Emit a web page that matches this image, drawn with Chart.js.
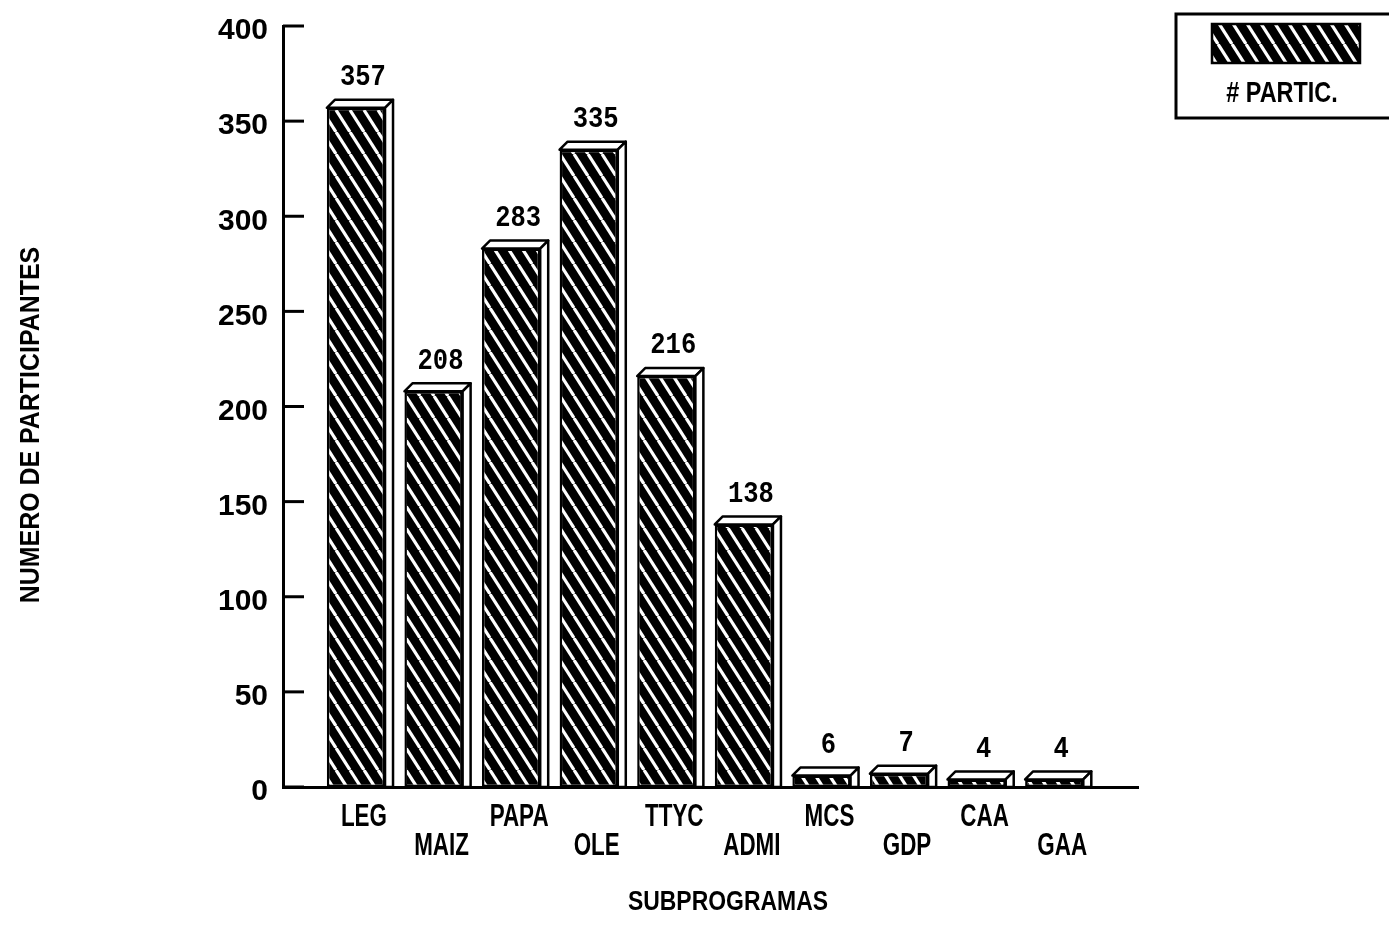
<!DOCTYPE html>
<html><head><meta charset="utf-8">
<script src="https://cdn.jsdelivr.net/npm/chart.js@4"></script>
<style>html,body{margin:0;padding:0;background:#fff;}#wrap{width:1389px;height:925px;position:relative;}</style>
</head><body><div id="wrap"><canvas id="c" width="1389" height="925"></canvas></div>
<script>
const categories = ['LEG','MAIZ','PAPA','OLE','TTYC','ADMI','MCS','GDP','CAA','GAA'];
const participants = [357, 208, 283, 335, 216, 138, 6, 7, 4, 4];
const yTickValues = [0, 50, 100, 150, 200, 250, 300, 350, 400];
const seriesLabel = '# PARTIC.';
const yTitle = 'NUMERO DE PARTICIPANTES';
const xTitle = 'SUBPROGRAMAS';

const SANS = '"Liberation Sans", Arial, sans-serif';
const MONO = '"Liberation Mono", "DejaVu Sans Mono", monospace';

function makeHatch() {
  const w = 14, h = 22;
  const c = document.createElement('canvas');
  c.width = w; c.height = h;
  const g = c.getContext('2d');
  g.fillStyle = '#000'; g.fillRect(0, 0, w, h);
  g.strokeStyle = '#fff'; g.lineWidth = 3.2;
  for (let k = -1; k <= 1; k++) {
    g.beginPath(); g.moveTo(k * w, 0); g.lineTo(k * w + w, h); g.stroke();
  }
  return g.createPattern(c, 'repeat');
}
const hatch = makeHatch();

const DEPTH_X = 8, DEPTH_Y = -8;

function squeezed(ctx, text, x, y, font, sx, rot) {
  ctx.save();
  ctx.translate(x, y);
  if (rot) ctx.rotate(rot);
  ctx.scale(sx, 1);
  ctx.font = font;
  ctx.fillStyle = '#000';
  ctx.textAlign = 'center';
  ctx.textBaseline = 'middle';
  ctx.fillText(text, 0, 0);
  ctx.restore();
}

const deco = {
  id: 'deco',
  afterDatasetsDraw(chart) {
    const ctx = chart.ctx;
    const meta = chart.getDatasetMeta(0);
    ctx.save();
    ctx.lineJoin = 'round';
    meta.data.forEach((bar, i) => {
      const p = bar.getProps(['x', 'y', 'base', 'width'], true);
      const l = p.x - p.width / 2, r = p.x + p.width / 2, t = p.y, b = p.base;
      ctx.lineWidth = 2.5; ctx.strokeStyle = '#000'; ctx.fillStyle = '#fff';
      ctx.beginPath();
      ctx.moveTo(l, t); ctx.lineTo(l + DEPTH_X, t + DEPTH_Y);
      ctx.lineTo(r + DEPTH_X, t + DEPTH_Y); ctx.lineTo(r, t); ctx.closePath();
      ctx.fill(); ctx.stroke();
      ctx.beginPath();
      ctx.moveTo(r, t); ctx.lineTo(r + DEPTH_X, t + DEPTH_Y);
      ctx.lineTo(r + DEPTH_X, b); ctx.lineTo(r, b); ctx.closePath();
      ctx.fill(); ctx.stroke();
      squeezed(ctx, String(participants[i]), p.x + 7, t - 30, 'bold 29px ' + MONO, 0.88);
    });
    ctx.restore();
  },
  afterDraw(chart) {
    const ctx = chart.ctx;
    const ys = chart.scales.y, xs = chart.scales.x;
    const area = chart.chartArea;
    ctx.save();
    ctx.strokeStyle = '#000'; ctx.lineWidth = 3;
    yTickValues.forEach(v => {
      const py = ys.getPixelForValue(v);
      ctx.beginPath(); ctx.moveTo(area.left, py); ctx.lineTo(area.left + 21, py); ctx.stroke();
    });
    // staggered category labels
    categories.forEach((cat, i) => {
      const px = xs.getPixelForValue(i) + 8;
      const py = area.bottom + 30 + (i % 2) * 29;
      squeezed(ctx, cat, px, py, 'bold 32px ' + SANS, 0.7);
    });
    // axis titles
    squeezed(ctx, xTitle, 728, 903, 'bold 27px ' + SANS, 0.85);
    squeezed(ctx, yTitle, 31, 425, 'bold 28px ' + SANS, 0.89, -Math.PI / 2);
    // legend box
    ctx.lineWidth = 3;
    ctx.strokeRect(1176, 14, 220, 104);
    ctx.fillStyle = chart.data.datasets[0].backgroundColor;
    ctx.fillRect(1212, 24, 148, 39);
    ctx.lineWidth = 2.5;
    ctx.strokeRect(1212, 24, 148, 39);
    squeezed(ctx, chart.data.datasets[0].label, 1282, 94, 'bold 30px ' + SANS, 0.78);
    ctx.restore();
  }
};

new Chart(document.getElementById('c'), {
  type: 'bar',
  data: {
    datasets: [{
      label: seriesLabel,
      data: participants.map((v, i) => ({ x: i, y: v })),
      backgroundColor: hatch,
      borderColor: '#000',
      borderWidth: 2.5,
      borderSkipped: false,
      barPercentage: 0.75,
      categoryPercentage: 1
    }]
  },
  options: {
    responsive: false,
    animation: false,
    devicePixelRatio: 1,
    layout: { padding: { top: 26, right: 251, bottom: 0, left: 0 } },
    plugins: { legend: { display: false }, tooltip: { enabled: false } },
    scales: {
      x: {
        type: 'linear', min: -0.94, max: 10.08, offset: false,
        grid: { display: false, drawTicks: false, offset: false },
        border: { display: true, color: '#000', width: 3 },
        afterBuildTicks: s => { s.ticks = categories.map((_, i) => ({ value: i })); },
        afterFit: s => { s.height = 138; s.paddingLeft = 0; s.paddingRight = 0; },
        ticks: { display: false, autoSkip: false, maxRotation: 0, minRotation: 0 }
      },
      y: {
        min: 0, max: 400,
        grid: { display: false, drawTicks: false },
        border: { display: true, color: '#000', width: 3 },
        afterBuildTicks: s => { s.ticks = yTickValues.map(v => ({ value: v })); },
        afterFit: s => { s.width = 283; s.paddingTop = 0; s.paddingBottom = 0; },
        ticks: {
          padding: 15, labelOffset: 5, color: '#000',
          font: { family: SANS, size: 30, weight: 'bold' }
        }
      }
    }
  },
  plugins: [deco]
});
</script></body></html>
